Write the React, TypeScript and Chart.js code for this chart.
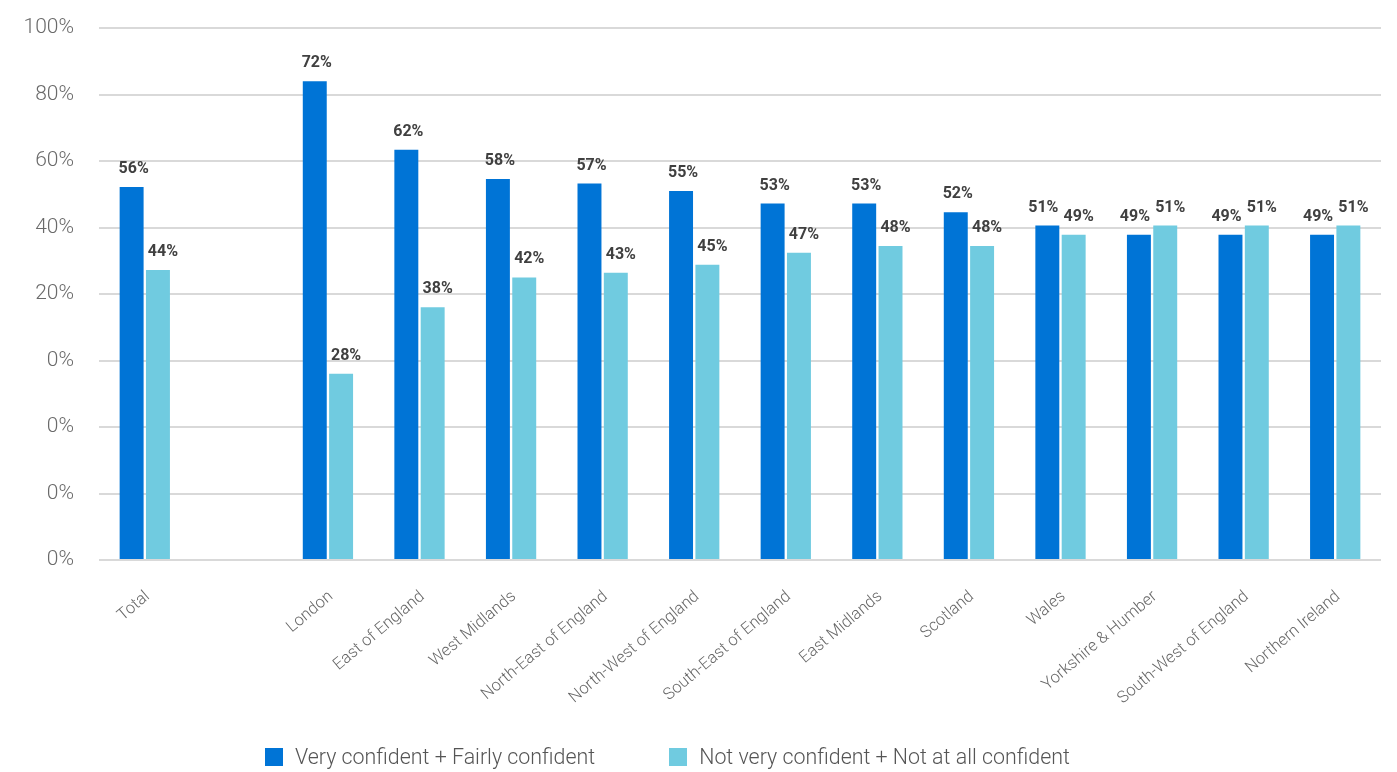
import React, { useEffect, useRef } from "react";
import { Chart, registerables } from "chart.js";

Chart.register(...registerables);

const categories = [
  "Total",
  "",
  "London",
  "East of England",
  "West Midlands",
  "North-East of England",
  "North-West of England",
  "South-East of England",
  "East Midlands",
  "Scotland",
  "Wales",
  "Yorkshire & Humber",
  "South-West of England",
  "Northern Ireland",
];

const confidentValues = [56.1, null, 72.0, 61.7, 57.3, 56.6, 55.5, 53.6, 53.6, 52.3, 50.3, 48.9, 48.9, 48.9];
const notConfidentValues = [43.6, null, 28.0, 38.0, 42.5, 43.2, 44.4, 46.2, 47.2, 47.2, 48.9, 50.3, 50.3, 50.3];

const confidentLabels = ["56%", "", "72%", "62%", "58%", "57%", "55%", "53%", "53%", "52%", "51%", "49%", "49%", "49%"];
const notConfidentLabels = ["44%", "", "28%", "38%", "42%", "43%", "45%", "47%", "48%", "48%", "49%", "51%", "51%", "51%"];

const yTickLabels = ["0%", "0%", "0%", "0%", "20%", "40%", "60%", "80%", "100%"];

const seriesNames = ["Very confident + Fairly confident", "Not very confident + Not at all confident"];
const seriesColors = ["#0074d6", "#70cbe0"];

const barLabelPlugin = {
  id: "barLabels",
  afterDatasetsDraw(chart: any) {
    const ctx = chart.ctx;
    const labelSets = [confidentLabels, notConfidentLabels];
    const metaA = chart.getDatasetMeta(0);
    const metaB = chart.getDatasetMeta(1);
    ctx.save();
    ctx.font = "bold 16px Roboto, 'Liberation Sans', sans-serif";
    ctx.fillStyle = "#404040";
    ctx.textAlign = "center";
    ctx.textBaseline = "alphabetic";
    metaA.data.forEach((elA: any, i: number) => {
      const elB = metaB.data[i];
      if (!labelSets[0][i]) return;
      const close = Math.abs(elA.y - elB.y) < 20;
      ctx.fillText(labelSets[0][i], elA.x + (close ? -4 : 2), elA.y - 14);
      ctx.fillText(labelSets[1][i], elB.x + 5, elB.y - 14);
    });
    ctx.restore();
  },
};

export default function App() {
  const canvasRef = useRef<HTMLCanvasElement | null>(null);

  useEffect(() => {
    if (!canvasRef.current) return;
    const chart = new Chart(canvasRef.current, {
      type: "bar",
      data: {
        labels: categories,
        datasets: [
          {
            label: seriesNames[0],
            data: confidentValues,
            backgroundColor: seriesColors[0],
            categoryPercentage: 0.575,
            barPercentage: 0.91,
          },
          {
            label: seriesNames[1],
            data: notConfidentValues,
            backgroundColor: seriesColors[1],
            categoryPercentage: 0.575,
            barPercentage: 0.91,
          },
        ],
      },
      options: {
        responsive: false,
        animation: false,
        layout: { padding: { top: 28, right: 16, left: 0, bottom: 0 } },
        plugins: {
          legend: { display: false },
          tooltip: { enabled: false },
        },
        scales: {
          x: {
            grid: { display: false, drawTicks: false },
            border: { display: false },
            ticks: {
              autoSkip: false,
              maxRotation: 40,
              minRotation: 40,
              padding: 27,
              labelOffset: 3,
              color: "#686868",
              font: { family: "Roboto, sans-serif", size: 16.5, weight: "300" as any },
            },
            afterFit(scale: any) {
              scale.height = 212;
            },
          },
          y: {
            min: 0,
            max: 80,
            grid: { color: "#d9d9d9", lineWidth: 2, drawTicks: false },
            border: { display: false },
            ticks: {
              stepSize: 10,
              padding: 25,
              color: "#6a6a6a",
              font: { family: "Roboto, sans-serif", size: 21, weight: "300" as any },
              callback: (_v: any, idx: number) => yTickLabels[idx],
            },
            afterFit(scale: any) {
              scale.width = 99;
              scale.paddingTop = 0;
              scale.paddingBottom = 0;
            },
          },
        },
      },
      plugins: [barLabelPlugin],
    });
    return () => chart.destroy();
  }, []);

  const legendItem = (i: number, extra: React.CSSProperties) => (
    <div style={{ display: "flex", alignItems: "center", ...extra }}>
      <div style={{ width: 18, height: 18, background: seriesColors[i], marginRight: 12 }} />
      <span>{seriesNames[i]}</span>
    </div>
  );

  return (
    <div style={{ position: "absolute", left: 0, top: 0, width: 1397, height: 772, background: "#fff" }}>
      <canvas ref={canvasRef} width={1397} height={772} style={{ display: "block" }} />
      <div
        style={{
          position: "absolute",
          left: 265,
          top: 743,
          display: "flex",
          fontFamily: "Roboto, sans-serif",
          fontWeight: 300,
          fontSize: 21.4,
          color: "#555555",
          lineHeight: "28px",
        }}
      >
        {legendItem(0, { marginRight: 74 })}
        {legendItem(1, {})}
      </div>
    </div>
  );
}
